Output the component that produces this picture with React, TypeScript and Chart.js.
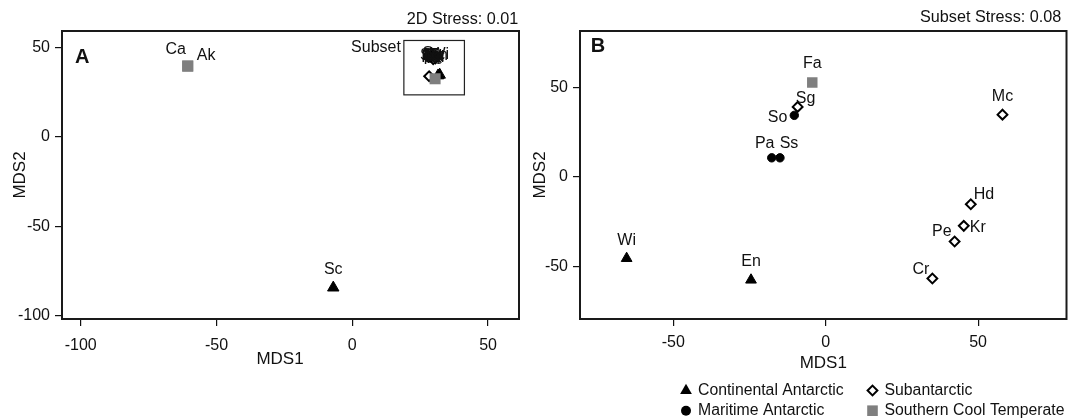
import React, { useEffect, useRef } from 'react';
import { Chart, registerables } from 'chart.js';
Chart.register(...registerables);

const FONT = "'Liberation Sans', Arial, Helvetica, sans-serif";
const INK = '#111111';
const GREY = '#7f7f7f';

// ---------- Panel A : full MDS ----------
const contA_labels = ['Sc', 'Wi', 'En'];
const contA_x = [-7.0, 32.2, 31.6];
const contA_y = [-84.2, 34.8, 34.4];
const mariA_labels = ['So', 'Pa', 'Ss'];
const mariA_x = [27.8, 28.6, 29.4];
const mariA_y = [44.8, 44.2, 45.0];
const subA_labels = ['Sg', 'Mc', 'Hd', 'Kr', 'Pe', 'Cr'];
const subA_x = [29.5, 31.0, 30.2, 30.6, 29.8, 28.3];
const subA_y = [45.8, 45.0, 44.4, 44.0, 43.6, 34.0];
const tempA_labels = ['Ca', 'Ak', 'Fa'];
const tempA_x = [-60.6, -60.6, 30.5];
const tempA_y = [39.7, 39.7, 32.6];
const xTicksA = [-100, -50, 0, 50];
const yTicksA = [-100, -50, 0, 50];
const xRangeA = [-106.9, 61.4];
const yRangeA = [-101.7, 59.3];
const subsetBoxX = [19.0, 41.3];
const subsetBoxY = [23.6, 54.0];
const stressA = '2D Stress: 0.01';

// ---------- Panel B : subset MDS ----------
const contB_labels = ['Wi', 'En'];
const contB_x = [-65.3, -24.5];
const contB_y = [-45.2, -57.2];
const mariB_labels = ['So', 'Pa', 'Ss'];
const mariB_x = [-10.3, -17.7, -15.0];
const mariB_y = [34.3, 10.7, 10.7];
const subB_labels = ['Sg', 'Mc', 'Hd', 'Kr', 'Pe', 'Cr'];
const subB_x = [-9.2, 58.0, 47.6, 45.3, 42.3, 35.0];
const subB_y = [39.0, 34.7, -15.1, -27.1, -35.8, -56.4];
const tempB_labels = ['Fa'];
const tempB_x = [-4.4];
const tempB_y = [52.6];
const xTicksB = [-50, 0, 50];
const yTicksB = [-50, 0, 50];
const xRangeB = [-80.6, 79.0];
const yRangeB = [-78.9, 81.2];
const stressB = 'Subset Stress: 0.08';

const groupNames = ['Continental Antarctic', 'Subantarctic', 'Maritime Antarctic', 'Southern Cool Temperate'];

// label placement (style only): [dx, dy, align]
type Place = [number, number, CanvasTextAlign];
const placeA: Record<string, Place> = {
  Sc: [0, -18, 'center'], Ca: [-12, -16, 'center'], Ak: [9, -10, 'left'],
  So: [2, -1, 'center'], Pa: [1, 0, 'center'], Ss: [0, -1, 'center'],
  Sg: [0, -2, 'center'], Mc: [-2, -1, 'center'], Hd: [0, 0, 'center'],
  Kr: [-1, 0, 'center'], Pe: [0, 1, 'center'], Cr: [4, -20, 'center'],
  Wi: [0, -20, 'center'], En: [0, -20, 'center'], Fa: [-1, -22, 'center'],
};
const placeB: Record<string, Place> = {
  Wi: [0, -18, 'center'], En: [0, -18, 'center'], So: [-7, 2, 'right'],
  Pa: [-7, -14, 'center'], Ss: [9, -14, 'center'], Sg: [8, -8, 'center'],
  Mc: [0, -18, 'center'], Hd: [3, -10, 'left'], Kr: [6, 2, 'left'],
  Pe: [-3, -10, 'right'], Cr: [-3, -9, 'right'], Fa: [0, -19, 'center'],
};

const pts = (xs: number[], ys: number[]) => xs.map((v, i) => ({ x: v, y: ys[i] }));

function datasets(
  cont: [string[], number[], number[]], mari: [string[], number[], number[]],
  sub: [string[], number[], number[]], temp: [string[], number[], number[]], big: boolean,
) {
  return [
    { label: groupNames[3], siteLabels: temp[0], data: pts(temp[1], temp[2]), pointStyle: 'rect', pointRadius: big ? 7.8 : 7.4, backgroundColor: GREY, borderColor: GREY, borderWidth: 0 },
    { label: groupNames[2], siteLabels: mari[0], data: pts(mari[1], mari[2]), pointStyle: 'circle', pointRadius: 4.2, backgroundColor: '#000', borderColor: '#000', borderWidth: 1 },
    { label: groupNames[0], siteLabels: cont[0], data: pts(cont[1], cont[2]), pointStyle: 'triangle', pointRadius: big ? 6.6 : 6.2, backgroundColor: '#000', borderColor: '#000', borderWidth: 1 },
    { label: groupNames[1], siteLabels: sub[0], data: pts(sub[1], sub[2]), pointStyle: 'rectRot', pointRadius: 4.9, backgroundColor: '#fff', borderColor: '#000', borderWidth: 2 },
  ];
}

function axis(tickVals: number[], range: number[], isX: boolean, fit: number, title: string, titlePad: number, labelPad: number, showTitle = true) {
  return {
    type: 'linear', min: range[0], max: range[1],
    afterBuildTicks: (s: any) => { s.ticks = tickVals.map((v) => ({ value: v })); },
    afterFit: (s: any) => {
      if (isX) s.height = fit; else s.width = fit;
      s.paddingLeft = 0; s.paddingRight = 0; s.paddingTop = 0; s.paddingBottom = 0;
    },
    grid: { display: true, drawOnChartArea: false, drawTicks: true, tickLength: 7, color: INK, lineWidth: 1.2 },
    border: { display: false },
    ticks: { color: INK, font: { family: FONT, size: 16 }, padding: labelPad, callback: (v: any) => String(v) },
    title: { display: showTitle, text: title, color: INK, font: { family: FONT, size: 17 }, padding: isX ? { top: 0, bottom: titlePad } : { top: titlePad, bottom: 0 } },
  };
}

function makePlugin(opts: { place: Record<string, Place>; letter: string; letterX: number; letterY: number; stress: string; stressX: number; stressY: number; box?: boolean; legend?: boolean; xTitle?: [string, number, number] }) {
  return {
    id: 'panelDecor' + opts.letter,
    afterDatasetsDraw(chart: any) {
      const { ctx, chartArea: a } = chart;
      ctx.save();
      // frame
      ctx.strokeStyle = '#1a1a1a';
      ctx.lineWidth = 2;
      ctx.strokeRect(a.left, a.top, a.right - a.left, a.bottom - a.top);
      // site labels
      ctx.fillStyle = INK;
      ctx.font = `16px ${FONT}`;
      ctx.textBaseline = 'middle';
      chart.data.datasets.forEach((ds: any, di: number) => {
        const meta = chart.getDatasetMeta(di);
        ds.siteLabels.forEach((lab: string, i: number) => {
          const el = meta.data[i];
          const p = opts.place[lab] || [0, -16, 'center'];
          ctx.textAlign = p[2];
          ctx.fillText(lab, el.x + p[0], el.y + p[1]);
        });
      });
      // subset box
      if (opts.box) {
        const sx = chart.scales.x, sy = chart.scales.y;
        const x0 = sx.getPixelForValue(subsetBoxX[0]), x1 = sx.getPixelForValue(subsetBoxX[1]);
        const y0 = sy.getPixelForValue(subsetBoxY[1]), y1 = sy.getPixelForValue(subsetBoxY[0]);
        ctx.strokeStyle = '#222';
        ctx.lineWidth = 1.2;
        ctx.strokeRect(x0, y0, x1 - x0, y1 - y0);
        ctx.textAlign = 'right';
        ctx.fillText('Subset', x0 - 3, y0 + 7);
      }
      // x-axis title drawn off-centre (as in the original)
      if (opts.xTitle) {
        ctx.font = `17px ${FONT}`;
        ctx.textAlign = 'center';
        ctx.fillText(opts.xTitle[0], opts.xTitle[1], opts.xTitle[2]);
      }
      // panel letter
      ctx.font = `bold 20px ${FONT}`;
      ctx.textAlign = 'left';
      ctx.textBaseline = 'alphabetic';
      ctx.fillText(opts.letter, opts.letterX, opts.letterY);
      // stress text
      ctx.font = `16.2px ${FONT}`;
      ctx.textAlign = 'right';
      ctx.textBaseline = 'middle';
      ctx.fillText(opts.stress, opts.stressX, opts.stressY);
      // legend
      if (opts.legend) {
        const cols = [166.0, 352.5];
        const rows = [390.5, 410.7];
        const items = [
          { name: groupNames[0], c: 0, r: 0, shape: 'tri' },
          { name: groupNames[1], c: 1, r: 0, shape: 'dia' },
          { name: groupNames[2], c: 0, r: 1, shape: 'cir' },
          { name: groupNames[3], c: 1, r: 1, shape: 'sq' },
        ];
        ctx.font = `15.8px ${FONT}`;
        items.forEach((it) => {
          const x = cols[it.c], y = rows[it.r];
          ctx.beginPath();
          if (it.shape === 'tri') {
            const r = 6.8;
            ctx.moveTo(x, y - r);
            ctx.lineTo(x + r * Math.sin(2 * Math.PI / 3), y - r * Math.cos(2 * Math.PI / 3));
            ctx.lineTo(x + r * Math.sin(4 * Math.PI / 3), y - r * Math.cos(4 * Math.PI / 3));
            ctx.closePath();
            ctx.fillStyle = '#000';
            ctx.fill();
          } else if (it.shape === 'dia') {
            const r = 4.9;
            ctx.moveTo(x - r, y); ctx.lineTo(x, y - r); ctx.lineTo(x + r, y); ctx.lineTo(x, y + r);
            ctx.closePath();
            ctx.fillStyle = '#fff';
            ctx.fill();
            ctx.lineWidth = 2;
            ctx.strokeStyle = '#000';
            ctx.stroke();
          } else if (it.shape === 'cir') {
            ctx.arc(x, y, 5, 0, Math.PI * 2);
            ctx.fillStyle = '#000';
            ctx.fill();
          } else {
            ctx.fillStyle = GREY;
            ctx.fillRect(x - 5.3, y - 5.3, 10.6, 10.6);
          }
          ctx.fillStyle = INK;
          ctx.textAlign = 'left';
          ctx.fillText(it.name, x + 12, y);
        });
      }
      ctx.restore();
    },
  };
}

function configA(): any {
  return {
    type: 'scatter',
    data: { datasets: datasets([contA_labels, contA_x, contA_y], [mariA_labels, mariA_x, mariA_y], [subA_labels, subA_x, subA_y], [tempA_labels, tempA_x, tempA_y], true) },
    options: {
      responsive: false, animation: false, devicePixelRatio: 1,
      layout: { autoPadding: false, padding: { left: 0, top: 31, right: 1, bottom: 0 } },
      plugins: { legend: { display: false }, tooltip: { enabled: false } },
      scales: {
        x: axis(xTicksA, xRangeA, true, 99, 'MDS1', 48, 10, false),
        y: axis(yTicksA, yRangeA, false, 62, 'MDS2', 10, 5),
      },
    },
    plugins: [makePlugin({ place: placeA, letter: 'A', letterX: 75, letterY: 63.3, stress: stressA, stressX: 518.3, stressY: 19.3, box: true, xTitle: ['MDS1', 280, 359.5] })],
  };
}

function configB(): any {
  return {
    type: 'scatter',
    data: { datasets: datasets([contB_labels, contB_x, contB_y], [mariB_labels, mariB_x, mariB_y], [subB_labels, subB_x, subB_y], [tempB_labels, tempB_x, tempB_y], false) },
    options: {
      responsive: false, animation: false, devicePixelRatio: 1,
      layout: { autoPadding: false, padding: { left: 0, top: 31, right: 1.5, bottom: 0 } },
      plugins: { legend: { display: false }, tooltip: { enabled: false } },
      scales: {
        x: axis(xTicksB, xRangeB, true, 99, 'MDS1', 44.5, 7),
        y: axis(yTicksB, yRangeB, false, 60, 'MDS2', 10.3, 5),
      },
    },
    plugins: [makePlugin({ place: placeB, letter: 'B', letterX: 70.7, letterY: 51.7, stress: stressB, stressX: 541.3, stressY: 17.3, legend: true })],
  };
}

function Panel({ make, left, width }: { make: () => any; left: number; width: number }) {
  const ref = useRef<HTMLCanvasElement>(null);
  useEffect(() => {
    const chart = new Chart(ref.current as HTMLCanvasElement, make());
    return () => chart.destroy();
  }, []);
  return <canvas ref={ref} width={width} height={418} style={{ position: 'absolute', left, top: 0, width, height: 418 }} />;
}

export default function App() {
  return (
    <div style={{ position: 'absolute', left: 0, top: 0, width: 1068, height: 418, background: '#fff', overflow: 'hidden' }}>
      <Panel make={configA} left={0} width={520} />
      <Panel make={configB} left={520} width={548} />
    </div>
  );
}
